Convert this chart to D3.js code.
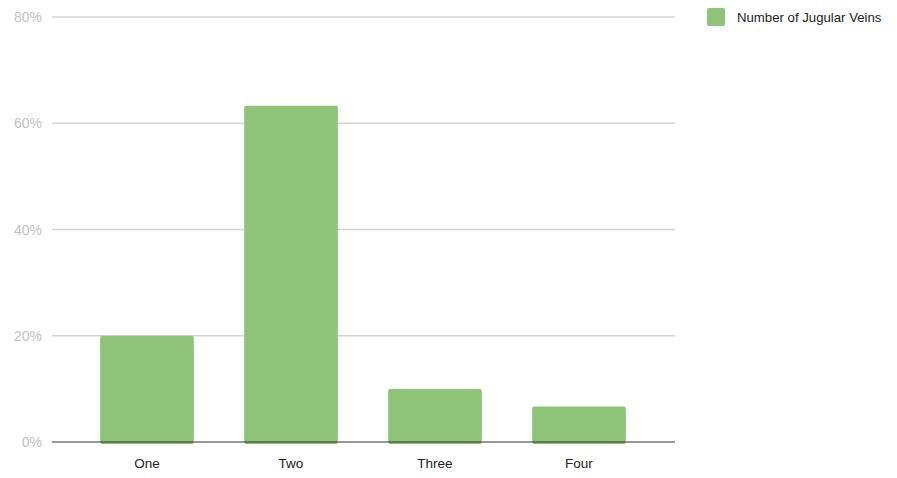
<!DOCTYPE html>
<html>
<head>
<meta charset="utf-8">
<script src="https://cdn.jsdelivr.net/npm/d3@7"></script>
<style>
  body { margin: 0; background: #fff; }
  text { font-family: "Liberation Sans", Arial, sans-serif; }
</style>
</head>
<body>
<svg id="chart"></svg>
<script>
const categories = ["One", "Two", "Three", "Four"];
const values = [20, 63.3, 10, 6.7];
const yTicks = [0, 20, 40, 60, 80];
const seriesName = "Number of Jugular Veins";

const width = 897, height = 478;
const svg = d3.select("#chart").attr("width", width).attr("height", height);

const x = d3.scaleBand().domain(categories).range([75, 651])
  .paddingInner(0.35).paddingOuter(0.175);
const y = d3.scaleLinear().domain([0, 80]).range([442, 17]);

// gridlines
svg.append("g")
  .selectAll("line")
  .data(yTicks.filter(d => d > 0))
  .join("line")
  .attr("x1", 52).attr("x2", 675)
  .attr("y1", d => y(d)).attr("y2", d => y(d))
  .attr("stroke", "#d4d4d4").attr("stroke-width", 1.5);

// y labels
svg.append("g")
  .selectAll("text")
  .data(yTicks)
  .join("text")
  .attr("x", 42).attr("y", d => y(d) + 5)
  .attr("text-anchor", "end")
  .attr("font-size", 14)
  .attr("fill", "#c2c2c2")
  .text(d => d + "%");

// bars
svg.append("g")
  .selectAll("rect")
  .data(values)
  .join("rect")
  .attr("x", (d, i) => x(categories[i]))
  .attr("width", x.bandwidth())
  .attr("y", d => y(d))
  .attr("height", d => y(0) - y(d) + 2)
  .attr("rx", 2)
  .attr("fill", "#8ec378");

// baseline
svg.append("line")
  .attr("x1", 52).attr("x2", 675)
  .attr("y1", y(0)).attr("y2", y(0))
  .attr("stroke", "#333").attr("stroke-width", 1.2);

// x labels
svg.append("g")
  .selectAll("text")
  .data(categories)
  .join("text")
  .attr("x", d => x(d) + x.bandwidth() / 2)
  .attr("y", 468)
  .attr("text-anchor", "middle")
  .attr("font-size", 13.5)
  .attr("fill", "#222")
  .text(d => d);

// legend
svg.append("rect")
  .attr("x", 707).attr("y", 8).attr("width", 18).attr("height", 18)
  .attr("rx", 2).attr("fill", "#8ec378");
svg.append("text")
  .attr("x", 737).attr("y", 22)
  .attr("font-size", 13.2)
  .attr("fill", "#222")
  .text(seriesName);
</script>
</body>
</html>
